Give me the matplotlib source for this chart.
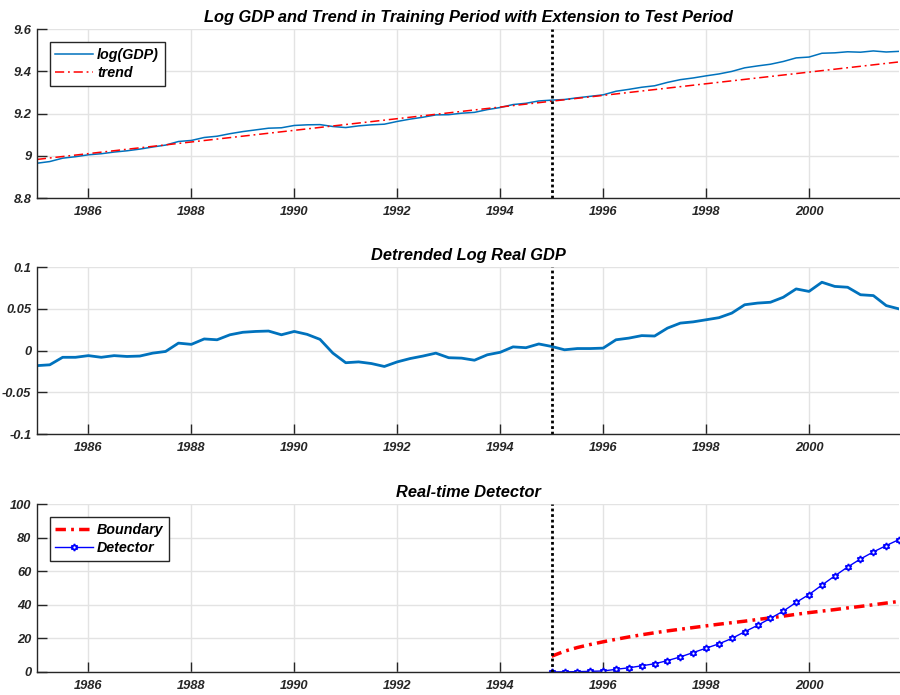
import numpy as np
import matplotlib
matplotlib.use("Agg")
import matplotlib.pyplot as plt

plt.rcParams['font.family'] = ['Liberation Sans', 'DejaVu Sans']

# quarterly dates 1985Q1 .. 2001Q4
dates = np.arange(1985.0, 2001.76, 0.25)
break_date = 1995.0

log_gdp = [8.965, 8.973, 8.989, 8.996, 9.005, 9.010, 9.018, 9.024, 9.032, 9.042,
           9.051, 9.068, 9.073, 9.087, 9.093, 9.105, 9.115, 9.123, 9.131, 9.133,
           9.144, 9.147, 9.148, 9.139, 9.134, 9.142, 9.147, 9.150, 9.163, 9.174,
           9.183, 9.194, 9.195, 9.202, 9.206, 9.219, 9.229, 9.243, 9.249, 9.260,
           9.264, 9.267, 9.275, 9.282, 9.289, 9.306, 9.315, 9.325, 9.332, 9.348,
           9.361, 9.369, 9.379, 9.388, 9.400, 9.417, 9.426, 9.434, 9.447, 9.464,
           9.468, 9.486, 9.488, 9.493, 9.491, 9.497, 9.492, 9.495]

trend_dates = [1985.0, 2001.75]
trend_vals = [8.983, 9.445]

detrended = [-0.018, -0.017, -0.008, -0.008, -0.006, -0.008, -0.006, -0.007, -0.0065, -0.003,
             -0.001, 0.009, 0.0075, 0.014, 0.013, 0.019, 0.022, 0.023, 0.0235, 0.019,
             0.023, 0.0195, 0.0135, -0.003, -0.0145, -0.0135, -0.0155, -0.019, -0.0135, -0.0095,
             -0.0065, -0.003, -0.0085, -0.009, -0.0115, -0.005, -0.002, 0.0045, 0.0035, 0.008,
             0.005, 0.001, 0.0025, 0.0025, 0.003, 0.013, 0.015, 0.018, 0.0175, 0.027,
             0.033, 0.0345, 0.037, 0.0395, 0.045, 0.055, 0.057, 0.058, 0.064, 0.074,
             0.071, 0.082, 0.077, 0.076, 0.067, 0.066, 0.054, 0.050]

# test period (from 1995Q1)
test_dates = dates[dates >= break_date]
boundary = [9.4, 12.4, 14.6, 16.4, 18.0, 19.5, 20.9, 22.2, 23.4, 24.5,
            25.5, 26.5, 27.5, 28.5, 29.4, 30.3, 31.3, 32.3, 33.3, 34.4,
            35.4, 36.3, 37.2, 38.2, 39.1, 40.1, 41.1, 42.1]
detector = [0.0, 0.1, 0.2, 0.4, 0.6, 1.6, 2.5, 3.7, 4.9, 6.8,
            9.0, 11.6, 14.2, 16.8, 20.0, 24.0, 27.8, 32.0, 36.3, 41.5,
            46.2, 51.8, 57.3, 62.6, 67.4, 71.6, 75.4, 79.0]

xticks = [1986, 1988, 1990, 1992, 1994, 1996, 1998, 2000]

fig = plt.figure(figsize=(9, 6.95), dpi=100)
ax1 = fig.add_axes([0.041, 0.715, 0.958, 0.243])
ax2 = fig.add_axes([0.041, 0.3755, 0.958, 0.240])
ax3 = fig.add_axes([0.041, 0.0331, 0.958, 0.2413])

tick_font = dict(fontsize=9.3, fontweight='bold', fontstyle='italic', color='#262626')
title_font = dict(fontsize=11.8, fontweight='bold', fontstyle='italic', color='black')
leg_font = dict(size=10.3, weight='bold', style='italic')


def style_axes(ax, ylim, yticks, ylabels):
    ax.set_xlim(1985, 2001.75)
    ax.set_ylim(*ylim)
    ax.set_xticks(xticks)
    ax.set_xticklabels([str(t) for t in xticks], **tick_font)
    ax.set_yticks(yticks)
    ax.set_yticklabels(ylabels, **tick_font)
    ax.grid(True, color='#e3e3e3', linewidth=1)
    ax.set_axisbelow(True)
    ax.tick_params(direction='in', length=7, width=1, color='#262626')
    ax.tick_params(axis='x', pad=6)
    ax.tick_params(axis='y', pad=4)
    for s in ['top', 'right']:
        ax.spines[s].set_visible(False)
    for s in ['left', 'bottom']:
        ax.spines[s].set_color('#262626')
        ax.spines[s].set_linewidth(1)
    ax.axvline(break_date, color='black', linestyle=(0, (1, 1)), linewidth=2)


def add_legend(ax):
    leg = ax.legend(loc='upper left', prop=leg_font, fancybox=False, edgecolor='#262626',
                    framealpha=1, borderaxespad=0.9, handlelength=2.6, handletextpad=0.3,
                    borderpad=0.4, labelspacing=0.3)
    leg.get_frame().set_linewidth(1)


# top panel
ax1.plot(dates, log_gdp, color='#0072BD', linewidth=1.1, label='log(GDP)')
ax1.plot(trend_dates, trend_vals, color='red', linestyle=(0, (6, 2.5, 1.2, 2.5)),
         linewidth=1.1, label='trend')
style_axes(ax1, (8.8, 9.6), [8.8, 9.0, 9.2, 9.4, 9.6], ['8.8', '9', '9.2', '9.4', '9.6'])
ax1.set_title('Log GDP and Trend in Training Period with Extension to Test Period', pad=5, **title_font)
add_legend(ax1)

# middle panel
ax2.plot(dates, detrended, color='#0072BD', linewidth=2)
style_axes(ax2, (-0.1, 0.1), [-0.1, -0.05, 0, 0.05, 0.1], ['-0.1', '-0.05', '0', '0.05', '0.1'])
ax2.set_title('Detrended Log Real GDP', pad=5, **title_font)

# bottom panel
ax3.plot(test_dates, boundary, color='red', linestyle=(0, (3, 1.5, 0.8, 1.5)),
         linewidth=2.5, label='Boundary')
ax3.plot(test_dates, detector, color='blue', linewidth=1, marker=(6, 1, 0), markersize=5,
         markerfacecolor='white', markeredgecolor='blue', markeredgewidth=1.2, label='Detector')
style_axes(ax3, (0, 100), [0, 20, 40, 60, 80, 100], ['0', '20', '40', '60', '80', '100'])
ax3.set_title('Real-time Detector', pad=5, **title_font)
add_legend(ax3)

fig.savefig('out.png', dpi=100)
